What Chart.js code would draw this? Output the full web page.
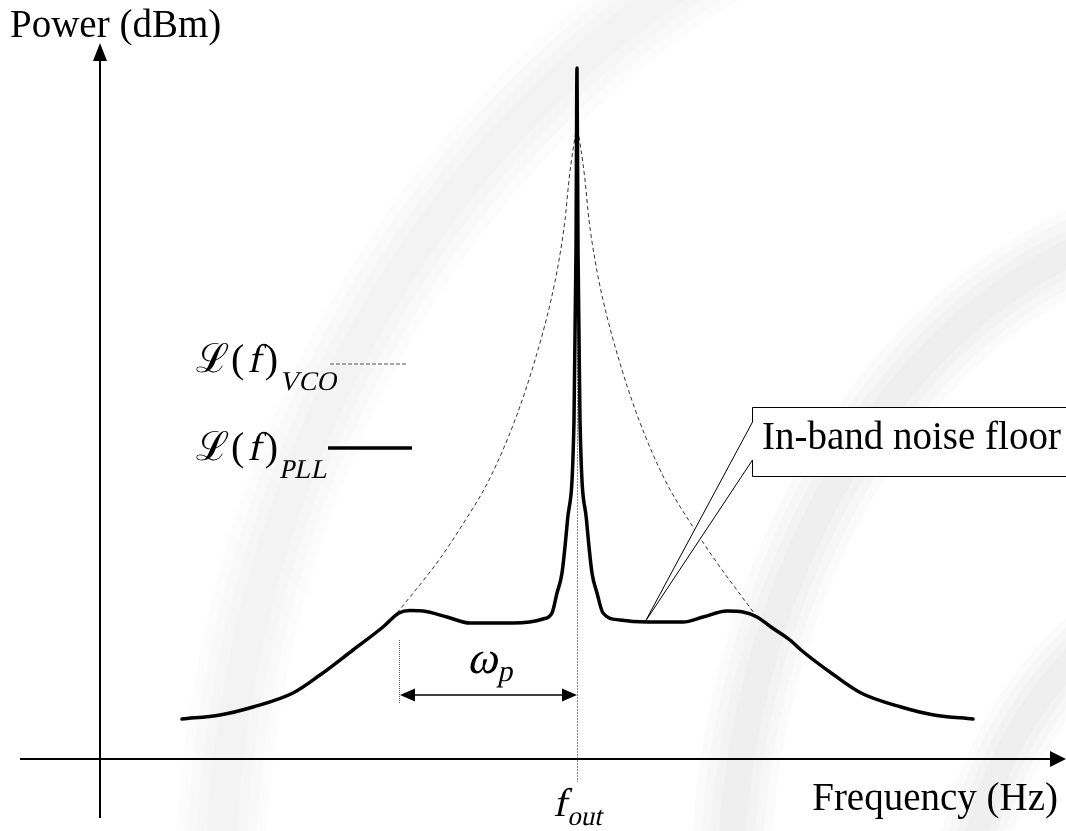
<!DOCTYPE html>
<html>
<head>
<meta charset="utf-8">
<script src="https://cdn.jsdelivr.net/npm/chart.js@4.4.1/dist/chart.umd.min.js"></script>
<style>
  html, body { margin: 0; padding: 0; background: #fff; }
  canvas { display: block; }
</style>
</head>
<body>
<canvas id="c" width="1066" height="831"></canvas>
<script>
// ---- Data (frequency offset from f_out, arbitrary units; power in dB, arbitrary reference) ----
const pllFreq = [-39.5, -35.7, -32.4, -28.4, -25.7, -22.4, -19.4, -17.8, -16.7, -15.4, -13.0, -10.7, -6.4, -3.4, -2.5, -2.0, -1.5, -0.95, -0.3, -0.1, 0,
                 0.1, 0.3, 0.95, 1.5, 2.0, 2.6, 4.3, 7.0, 10.6, 12.6, 15.0, 16.6, 18.0, 19.4, 21.3, 22.4, 25.7, 28.4, 32.4, 35.7, 39.6];
const pllPower = [4.0, 4.4, 5.2, 6.6, 8.4, 10.9, 13.2, 14.6, 14.85, 14.8, 14.2, 13.6, 13.6, 14.0, 14.6, 16.6, 18.6, 23.9, 33.9, 50.9, 69.1,
                  50.9, 33.9, 23.9, 18.6, 16.6, 14.6, 13.9, 13.7, 13.7, 14.2, 14.8, 14.7, 14.2, 13.2, 11.9, 10.9, 8.4, 6.6, 5.2, 4.4, 4.0];
const vcoFreq = [-18.0, -13.8, -11.6, -8.8, -6.2, -4.2, -2.6, -1.8, -1.2, -0.8, -0.4, 0, 0.4, 0.8, 1.2, 1.8, 2.6, 4.2, 6.2, 8.8, 11.6, 13.8, 18.0];
const vcoPower = [14.6, 19.9, 23.2, 27.9, 33.9, 39.9, 45.9, 49.9, 53.9, 57.9, 60.9, 62.9, 60.9, 57.9, 53.9, 49.9, 45.9, 39.9, 33.9, 27.9, 23.2, 19.9, 14.2];
const fOut = 0;            // carrier frequency position
const omegaP = -17.8;      // loop bandwidth edge (offset)
const noiseFloorPoint = { x: 6.8, y: 13.7 };
const labels = {
  yAxis: 'Power (dBm)',
  xAxis: 'Frequency (Hz)',
  callout: 'In-band noise floor',
  vco: 'VCO',
  pll: 'PLL'
};

// ---- Layout (in data units) ----
const A = {
  xMin: -57.7, xMax: 48.9, yMin: -7.2, yMax: 75.9,
  yAxisX: -47.7, yAxisTop: 71.2, yAxisBottom: -5.9,
  xAxisLeft: -55.7,
  yLabel: { x: -56.7, y: 72.2 },
  xLabel: { x: 48.1, y: -5.1 },
  fLabel: { x: -2.4, y: -5.7 },
  fLineTop: 62.9, fLineBottom: -2.3,
  wpTop: 11.9, wpBottom: 5.6, wpArrowY: 6.4,
  wpLabel: { x: -11.0, y: 8.6 },
  legVco: { x: -38.1, y: 38.7, lineY: 39.5, lx0: -24.7, lx1: -16.9 },
  legPll: { x: -38.1, y: 29.9, lineY: 31.1, lx0: -24.9, lx1: -16.5 },
  box: { left: 17.5, top: 35.2, bottom: 28.3, gapTop: 33.7, gapBottom: 29.9, text: { x: 18.5, y: 30.7 } }
};

const SERIF = "'Liberation Serif','Times New Roman','DejaVu Serif',serif";

// draws a run of text pieces; pieces with slant:true get a synthetic italic (skew) of the serif face
function runText(ctx, parts, x, y) {
  for (const p of parts) {
    ctx.font = p.font;
    x += (p.pre || 0);
    const yy = y + (p.dy || 0);
    if (p.slant) {
      ctx.save();
      ctx.translate(x, yy);
      ctx.transform(1, 0, -0.22, 1, 0, 0);
      ctx.fillText(p.t, 0, 0);
      ctx.restore();
    } else {
      ctx.fillText(p.t, x, yy);
    }
    x += ctx.measureText(p.t).width + (p.post || 0);
  }
  return x;
}

const bgPlugin = {
  id: 'bg',
  beforeDraw(chart) {
    const ctx = chart.ctx;
    ctx.save();
    ctx.fillStyle = '#fff';
    ctx.fillRect(0, 0, chart.width, chart.height);
    // very faint, soft watermark bands
    ctx.lineCap = 'butt';
    const bands = [
      { cx: 1150, cy: 900, rx: 930, ry: 1060, w: 90, a: 0.012 },
      { cx: 1250, cy: 900, rx: 520, ry: 690, w: 80, a: 0.014 },
      { cx: 1250, cy: 960, rx: 290, ry: 380, w: 70, a: 0.016 }
    ];
    for (const b of bands) {
      ctx.strokeStyle = 'rgba(0,0,0,' + b.a + ')';
      for (let k = 0; k < 4; k++) {
        ctx.lineWidth = b.w * (1 - k * 0.22);
        ctx.beginPath();
        ctx.ellipse(b.cx, b.cy, b.rx, b.ry, 0, Math.PI, 1.5 * Math.PI);
        ctx.stroke();
      }
    }
    ctx.restore();
  },
  beforeDatasetsDraw(chart) {
    const ctx = chart.ctx, xs = chart.scales.x, ys = chart.scales.y;
    ctx.save();
    // f_out marker line
    const fx = Math.round(xs.getPixelForValue(fOut)) + 0.5;
    ctx.strokeStyle = '#8c8c8c';
    ctx.lineWidth = 1;
    ctx.setLineDash([2, 1]);
    ctx.beginPath();
    ctx.moveTo(fx, ys.getPixelForValue(A.fLineTop));
    ctx.lineTo(fx, ys.getPixelForValue(A.fLineBottom));
    ctx.stroke();
    // omega_p marker line
    const wx = Math.round(xs.getPixelForValue(omegaP)) + 0.5;
    ctx.strokeStyle = '#555';
    ctx.setLineDash([1, 1]);
    ctx.beginPath();
    ctx.moveTo(wx, ys.getPixelForValue(A.wpTop));
    ctx.lineTo(wx, ys.getPixelForValue(A.wpBottom));
    ctx.stroke();
    ctx.restore();
  }
};

function arrowHead(ctx, tipX, tipY, dx, dy, len, half) {
  const bx = tipX - dx * len, by = tipY - dy * len;
  ctx.beginPath();
  ctx.moveTo(tipX, tipY);
  ctx.lineTo(bx - dy * half, by + dx * half);
  ctx.lineTo(bx + dy * half, by - dx * half);
  ctx.closePath();
  ctx.fill();
}

const overlayPlugin = {
  id: 'overlay',
  afterDatasetsDraw(chart) {
    const ctx = chart.ctx, xs = chart.scales.x, ys = chart.scales.y;
    const X = v => xs.getPixelForValue(v), Y = v => ys.getPixelForValue(v);
    ctx.save();
    ctx.fillStyle = '#000';
    ctx.strokeStyle = '#000';

    // Axes
    ctx.lineWidth = 2;
    const ax = X(A.yAxisX), ay = Y(0);
    ctx.beginPath();
    ctx.moveTo(ax, Y(A.yAxisBottom));
    ctx.lineTo(ax, Y(A.yAxisTop) + 14);
    ctx.stroke();
    arrowHead(ctx, ax, Y(A.yAxisTop) - 4, 0, -1, 18, 7);
    ctx.beginPath();
    ctx.moveTo(X(A.xAxisLeft), ay);
    ctx.lineTo(chart.width - 14, ay);
    ctx.stroke();
    arrowHead(ctx, chart.width, ay, 1, 0, 16, 8);

    // omega_p double arrow
    ctx.lineWidth = 1.5;
    const wy = Y(A.wpArrowY);
    const w0 = X(omegaP), w1 = X(fOut);
    ctx.beginPath();
    ctx.moveTo(w0 + 10, wy);
    ctx.lineTo(w1 - 10, wy);
    ctx.stroke();
    arrowHead(ctx, w0 + 1, wy, -1, 0, 15, 6.5);
    arrowHead(ctx, w1, wy, 1, 0, 15, 6.5);

    // Texts
    ctx.textBaseline = 'alphabetic';
    ctx.textAlign = 'left';
    ctx.font = '39px ' + SERIF;
    ctx.fillText(labels.yAxis, X(A.yLabel.x), Y(A.yLabel.y));
    ctx.textAlign = 'right';
    ctx.fillText(labels.xAxis, X(A.xLabel.x), Y(A.xLabel.y));
    ctx.textAlign = 'left';

    runText(ctx, [
      { t: 'f', font: '40px ' + SERIF, slant: true, post: 1 },
      { t: 'out', font: '27px ' + SERIF, slant: true, dy: 9 }
    ], X(A.fLabel.x), Y(A.fLabel.y));

    runText(ctx, [
      { t: 'ω', font: '46px ' + SERIF, slant: true, post: 0 },
      { t: 'p', font: '30px ' + SERIF, slant: true, dy: 8 }
    ], X(A.wpLabel.x), Y(A.wpLabel.y));

    // Legend entries
    const legend = (L, sub, dashed) => {
      runText(ctx, [
        { t: 'ℒ', font: '40px ' + SERIF, post: 2 },
        { t: '(', font: '40px ' + SERIF, post: 3 },
        { t: 'f', font: '40px ' + SERIF, slant: true, post: 4 },
        { t: ')', font: '40px ' + SERIF, post: 1 },
        { t: sub, font: '27px ' + SERIF, slant: true, dy: 18 }
      ], X(L.x), Y(L.y));
      ctx.save();
      if (dashed) {
        ctx.strokeStyle = '#555';
        ctx.lineWidth = 1;
        ctx.setLineDash([4, 2]);
      } else {
        ctx.strokeStyle = '#000';
        ctx.lineWidth = 3.5;
      }
      ctx.beginPath();
      ctx.moveTo(X(L.lx0), Y(L.lineY));
      ctx.lineTo(X(L.lx1), Y(L.lineY));
      ctx.stroke();
      ctx.restore();
    };
    legend(A.legVco, labels.vco, true);
    legend(A.legPll, labels.pll, false);

    // Callout box
    const b = A.box;
    const bl = X(b.left) + 0.5, bt = Y(b.top) + 0.5, bb = Y(b.bottom) + 0.5;
    const g1 = Y(b.gapTop), g2 = Y(b.gapBottom);
    const px = X(noiseFloorPoint.x), py = Y(noiseFloorPoint.y);
    const outline = () => {
      ctx.beginPath();
      ctx.moveTo(chart.width + 2, bt);
      ctx.lineTo(bl, bt);
      ctx.lineTo(bl, g1);
      ctx.lineTo(px, py);
      ctx.lineTo(bl, g2);
      ctx.lineTo(bl, bb);
      ctx.lineTo(chart.width + 2, bb);
    };
    ctx.fillStyle = '#fff';
    outline();
    ctx.closePath();
    ctx.fill();
    ctx.lineWidth = 1;
    ctx.strokeStyle = '#000';
    outline();
    ctx.stroke();
    ctx.fillStyle = '#000';
    ctx.font = '39px ' + SERIF;
    ctx.fillText(labels.callout, X(b.text.x), Y(b.text.y) - 3);

    ctx.restore();
  }
};

new Chart(document.getElementById('c'), {
  type: 'line',
  data: {
    datasets: [
      {
        label: 'L(f) PLL',
        data: pllFreq.map((x, i) => ({ x, y: pllPower[i] })),
        borderColor: '#000',
        borderWidth: 3.5,
        borderCapStyle: 'round',
        borderJoinStyle: 'round',
        pointRadius: 0,
        cubicInterpolationMode: 'monotone',
        fill: false,
        order: 1
      },
      {
        label: 'L(f) VCO',
        data: vcoFreq.map((x, i) => ({ x, y: vcoPower[i] })),
        borderColor: '#333',
        borderWidth: 1,
        borderDash: [4, 3],
        pointRadius: 0,
        cubicInterpolationMode: 'monotone',
        fill: false,
        order: 2
      }
    ]
  },
  options: {
    responsive: false,
    animation: false,
    events: [],
    layout: { padding: 0 },
    plugins: { legend: { display: false }, tooltip: { enabled: false } },
    scales: {
      x: { type: 'linear', display: false, min: A.xMin, max: A.xMax },
      y: { type: 'linear', display: false, min: A.yMin, max: A.yMax }
    }
  },
  plugins: [bgPlugin, overlayPlugin]
});
</script>
</body>
</html>
